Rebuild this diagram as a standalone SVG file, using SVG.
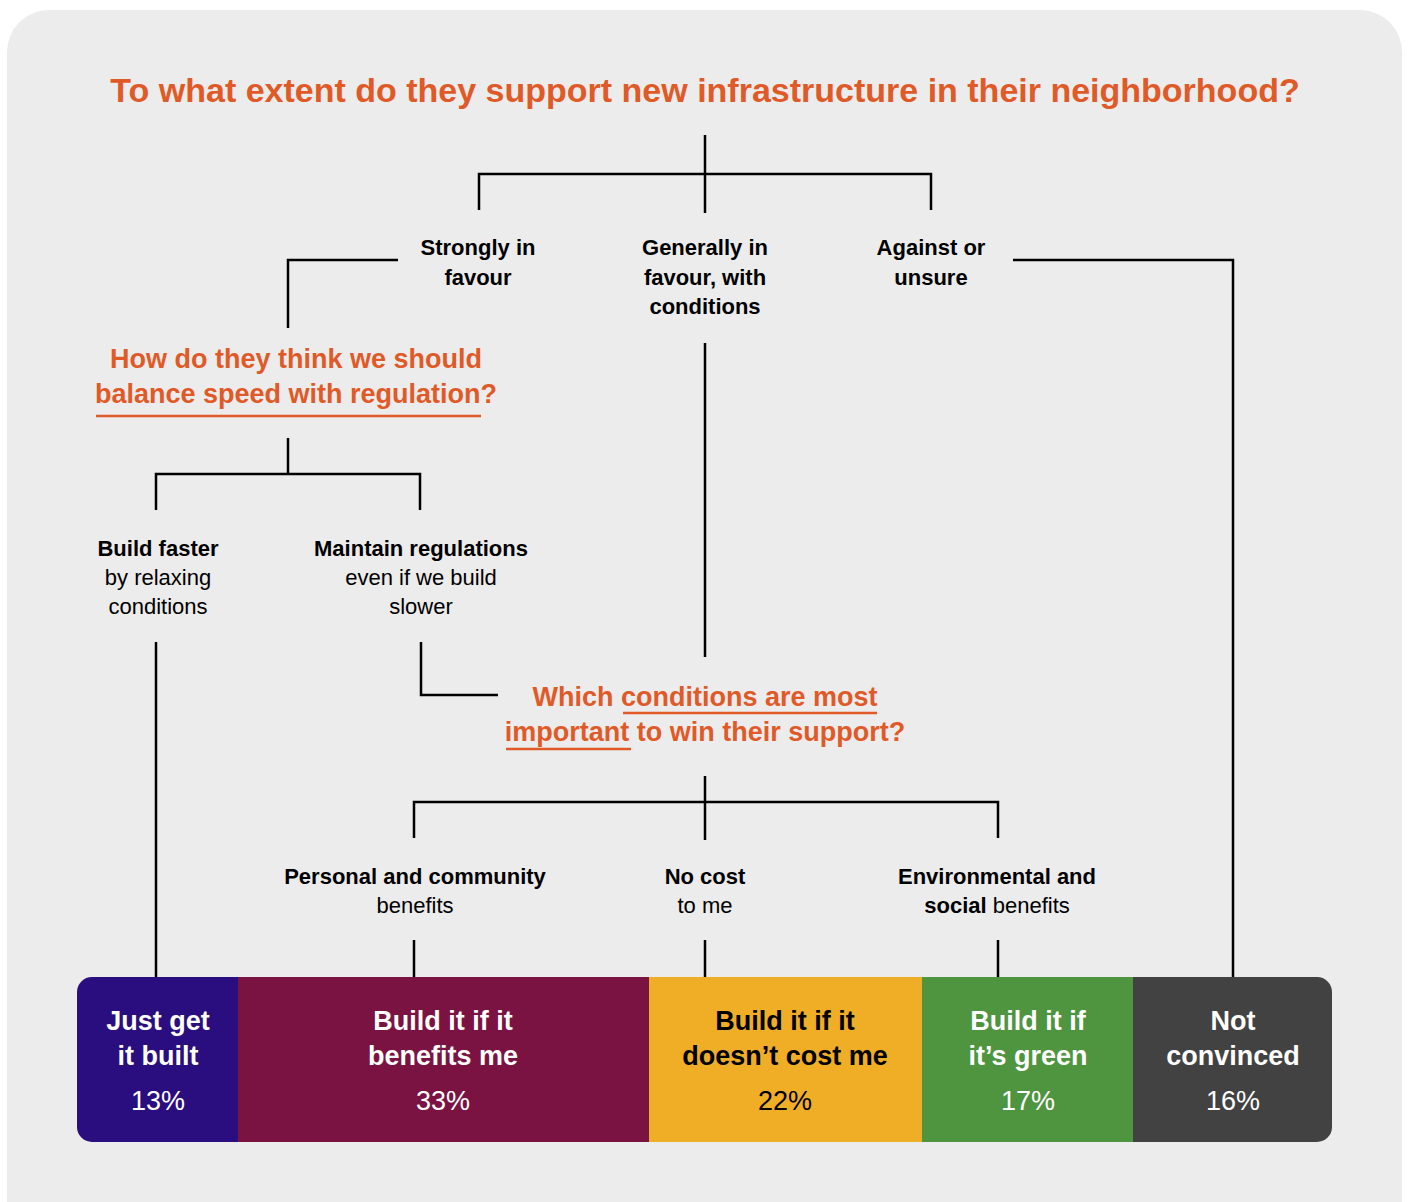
<svg xmlns="http://www.w3.org/2000/svg" width="1409" height="1202" viewBox="0 0 1409 1202">
<style>
.t{font-family:"Liberation Sans",Arial,sans-serif;text-anchor:middle}
.q{font-weight:bold;fill:#e05a28;font-size:27px}
.lb{font-size:22px;fill:#000}
.b{font-weight:bold}
.bar{fill:#fff;font-size:27px}
.ln{stroke:#000;stroke-width:2.5;fill:none}
.ul{stroke:#e05a28;stroke-width:2.5;fill:none}
</style>
<defs>
<clipPath id="barclip"><rect x="77" y="977" width="1255" height="165" rx="15"/></clipPath>
</defs>
<rect width="1409" height="1202" fill="#fff"/>
<rect x="7" y="10" width="1395" height="1240" rx="42" fill="#ececec"/>
<text class="t q" x="705" y="102" style="font-size:34px">To what extent do they support new infrastructure in their neighborhood?</text>
<g id="connectors">
<path class="ln" d="M705 135V213M479 210V174H931V210"/>
<path class="ln" d="M398 260H288V328"/>
<path class="ln" d="M1013 260H1233V977"/>
<path class="ln" d="M705 343V657"/>
<path class="ln" d="M288 438V474M156 510V474H420V510"/>
<path class="ln" d="M156 642V977"/>
<path class="ln" d="M421 642V695H498"/>
<path class="ln" d="M705 776V840M414 838V802H998V838"/>
<path class="ln" d="M414 940V977M705 940V977M998 940V977"/>
</g>
<g id="strongly"><text class="t lb b"><tspan x="478" y="255">Strongly in</tspan><tspan x="478" y="285">favour</tspan></text></g>
<g id="generally"><text class="t lb b"><tspan x="705" y="255">Generally in</tspan><tspan x="705" y="285">favour, with</tspan><tspan x="705" y="314">conditions</tspan></text></g>
<g id="against"><text class="t lb b"><tspan x="931" y="255">Against or</tspan><tspan x="931" y="285">unsure</tspan></text></g>
<g id="q-balance">
<text class="t q"><tspan x="296" y="368">How do they think we should</tspan><tspan x="296" y="403">balance speed with regulation?</tspan></text>
<path class="ul" d="M96 416H481"/>
</g>
<g id="build-faster"><text class="t lb"><tspan x="158" y="556" class="b">Build faster</tspan><tspan x="158" y="585">by relaxing</tspan><tspan x="158" y="614">conditions</tspan></text></g>
<g id="maintain"><text class="t lb"><tspan x="421" y="556" class="b">Maintain regulations</tspan><tspan x="421" y="585">even if we build</tspan><tspan x="421" y="614">slower</tspan></text></g>
<g id="q-conditions">
<text class="t q"><tspan x="705" y="706">Which conditions are most</tspan><tspan x="705" y="741">important to win their support?</tspan></text>
<path class="ul" d="M623 713H877M506 749H631"/>
</g>
<g id="personal"><text class="t lb"><tspan x="415" y="884" class="b">Personal and community</tspan><tspan x="415" y="913">benefits</tspan></text></g>
<g id="nocost"><text class="t lb"><tspan x="705" y="884" class="b">No cost</tspan><tspan x="705" y="913">to me</tspan></text></g>
<g id="env"><text class="t lb"><tspan x="997" y="884" class="b">Environmental and</tspan><tspan x="997" y="913"><tspan class="b">social</tspan> benefits</tspan></text></g>
<g id="bar" clip-path="url(#barclip)">
<rect x="77" y="977" width="162" height="165" fill="#2a0d7e"/>
<rect x="238" y="977" width="412" height="165" fill="#7b1342"/>
<rect x="649" y="977" width="274" height="165" fill="#f0ad26"/>
<rect x="922" y="977" width="212" height="165" fill="#4f943f"/>
<rect x="1133" y="977" width="199" height="165" fill="#424242"/>
</g>
<g id="just"><text class="t bar"><tspan x="158" y="1030" class="b">Just get</tspan><tspan x="158" y="1065" class="b">it built</tspan><tspan x="158" y="1110">13%</tspan></text></g>
<g id="benefits"><text class="t bar"><tspan x="443" y="1030" class="b">Build it if it</tspan><tspan x="443" y="1065" class="b">benefits me</tspan><tspan x="443" y="1110">33%</tspan></text></g>
<g id="cost"><text class="t bar" style="fill:#000"><tspan x="785" y="1030" class="b">Build it if it</tspan><tspan x="785" y="1065" class="b">doesn’t cost me</tspan><tspan x="785" y="1110">22%</tspan></text></g>
<g id="green"><text class="t bar"><tspan x="1028" y="1030" class="b">Build it if</tspan><tspan x="1028" y="1065" class="b">it’s green</tspan><tspan x="1028" y="1110">17%</tspan></text></g>
<g id="notconv"><text class="t bar"><tspan x="1233" y="1030" class="b">Not</tspan><tspan x="1233" y="1065" class="b">convinced</tspan><tspan x="1233" y="1110">16%</tspan></text></g>
</svg>
